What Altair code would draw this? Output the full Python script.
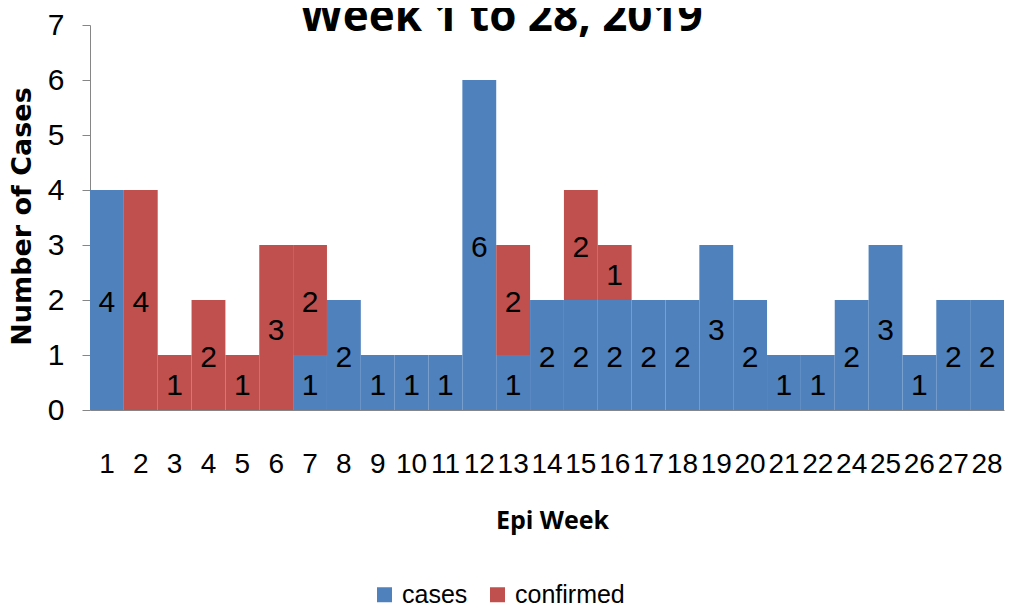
import altair as alt
import pandas as pd

weeks = ["1", "2", "3", "4", "5", "6", "7", "8", "9", "10", "11", "12", "13", "14",
         "15", "16", "17", "18", "19", "20", "21", "22", "24", "25", "26", "27", "28"]
cases = [4, 0, 0, 0, 0, 0, 1, 2, 1, 1, 1, 6, 1, 2, 2, 2, 2, 2, 3, 2, 1, 1, 2, 3, 1, 2, 2]
confirmed = [0, 4, 1, 2, 1, 3, 2, 0, 0, 0, 0, 0, 2, 0, 2, 1, 0, 0, 0, 0, 0, 0, 0, 0, 0, 0, 0]
series_names = ["cases", "confirmed"]
series_colors = ["#4F81BD", "#C0504D"]
title_text = ["Week 1 to 28, 2019"]

rows = []
for w, c, f in zip(weeks, cases, confirmed):
    if c > 0:
        rows.append({"week": w, "series": "cases", "value": c})
    if f > 0:
        rows.append({"week": w, "series": "confirmed", "value": f})
df = pd.DataFrame(rows)

FONT = "Liberation Sans"

x_enc = alt.X(
    "week:N",
    sort=weeks,
    scale=alt.Scale(paddingInner=0, paddingOuter=0),
    axis=alt.Axis(
        title="Epi Week",
        labelAngle=0,
        labelFont=FONT,
        labelFontSize=28,
        labelColor="#000000",
        labelBaseline="alphabetic",
        labelPadding=62,
        ticks=False,
        tickSize=0,
        domainColor="#868686",
        titleFont="Open Sans",
        titleFontSize=25,
        titleFontWeight="bold",
        titleColor="#000000",
        titleBaseline="alphabetic",
        titleX=462,
        titleY=118,
    ),
)

bars = alt.Chart(df).mark_bar(strokeWidth=0).encode(
    x=x_enc,
    y=alt.Y(
        "value:Q",
        stack="zero",
        scale=alt.Scale(domain=[0, 7], nice=False),
        axis=alt.Axis(
            title="Number of Cases",
            values=[0, 1, 2, 3, 4, 5, 6, 7],
            format="d",
            grid=False,
            labelFont=FONT,
            labelFontSize=30,
            labelColor="#000000",
            labelPadding=18,
            tickSize=8,
            tickColor="#868686",
            domainColor="#868686",
            titleFont="DejaVu Sans",
            titleFontSize=27,
            titleFontWeight="bold",
            titleColor="#000000",
            titleAngle=270,
            titleAlign="center",
            titleBaseline="middle",
            titleX=-68,
            titleY=191,
        ),
    ),
    color=alt.Color(
        "series:N",
        scale=alt.Scale(domain=series_names, range=series_colors),
        legend=alt.Legend(
            title=None,
            orient="none",
            legendX=282,
            legendY=557,
            direction="horizontal",
            symbolType="square",
            symbolSize=225,
            symbolStrokeWidth=0,
            labelFont=FONT,
            labelFontSize=25,
            labelColor="#000000",
            labelOffset=5,
            columnPadding=17,
        ),
    ),
    order=alt.Order("series:N", sort="ascending"),
)

labels = alt.Chart(df).transform_stack(
    stack="value",
    groupby=["week"],
    as_=["y0", "y1"],
    sort=[alt.SortField("series", order="ascending")],
).transform_calculate(
    mid="(datum.y0 + datum.y1) / 2"
).mark_text(
    font=FONT, fontSize=30, color="#000000", dy=3, baseline="middle"
).encode(
    x=alt.X("week:N", sort=weeks),
    y=alt.Y("mid:Q"),
    text=alt.Text("value:Q"),
)

title = alt.Chart(pd.DataFrame({"t": title_text})).mark_text(
    font="Open Sans",
    fontSize=44,
    fontWeight="bold",
    color="#000000",
    align="center",
    baseline="alphabetic",
).encode(
    x=alt.value(411.5),
    y=alt.value(6),
    text="t:N",
)

chart = alt.layer(bars, labels, title).properties(
    width=914,
    height=385,
    padding={"left": 82, "top": 17, "right": 1, "bottom": 198},
    autosize=alt.AutoSizeParams(type="none"),
).configure_view(stroke=None)

chart.save("out.html", embed_options={"renderer": "svg", "actions": False})
